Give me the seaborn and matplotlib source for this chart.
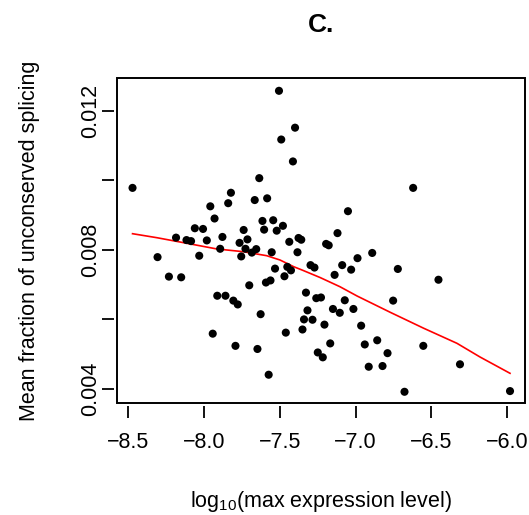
import numpy as np
import pandas as pd
import matplotlib
matplotlib.use("Agg")
import matplotlib.pyplot as plt
import matplotlib.patches as mpatches
import seaborn as sns

plt.rcParams['font.family'] = ['Liberation Sans', 'DejaVu Sans']
plt.rcParams['mathtext.fontset'] = 'custom'
plt.rcParams['mathtext.rm'] = 'Liberation Sans'
plt.rcParams['mathtext.it'] = 'Liberation Sans:italic'

# log10(max expression level)
expr = [-7.506, -7.400, -7.491, -7.414, -8.472, -7.636, -7.823, -7.841, -7.666, -7.584,
        -7.959, -7.931, -7.615, -7.544, -7.604, -7.480, -7.521, -8.061, -8.007, -7.739,
        -8.185, -8.116, -8.086, -7.982, -7.879, -7.714, -7.766, -7.438, -7.377, -7.359,
        -7.894, -7.727, -7.685, -7.656, -7.755, -7.554, -7.384, -7.195, -7.178, -7.120,
        -7.051, -6.621, -6.891, -6.988, -7.089, -7.298, -7.272, -7.030, -7.139, -6.722,
        -6.454, -8.307, -8.032, -8.232, -8.151, -7.532, -7.451, -7.427, -7.470, -7.702,
        -7.592, -7.562, -7.328, -7.260, -7.229, -7.913, -7.859, -7.807, -7.778, -7.627,
        -7.318, -7.341, -7.285, -7.351, -7.461, -7.943, -7.793, -7.648, -7.574, -7.250,
        -7.217, -7.168, -7.206, -7.150, -7.105, -7.072, -7.015, -6.753, -6.964, -6.858,
        -6.940, -6.790, -6.554, -6.914, -6.823, -6.312, -6.678, -5.982]

# mean fraction of unconserved splicing
frac = [0.01257, 0.01151, 0.01117, 0.01054, 0.00978, 0.01006, 0.00964, 0.00934, 0.00943, 0.00948,
        0.00925, 0.00890, 0.00883, 0.00885, 0.00858, 0.00869, 0.00855, 0.00862, 0.00860, 0.00857,
        0.00835, 0.00828, 0.00825, 0.00827, 0.00837, 0.00830, 0.00820, 0.00823, 0.00834, 0.00829,
        0.00803, 0.00803, 0.00792, 0.00802, 0.00781, 0.00793, 0.00793, 0.00817, 0.00813, 0.00848,
        0.00911, 0.00978, 0.00791, 0.00776, 0.00756, 0.00756, 0.00749, 0.00743, 0.00728, 0.00745,
        0.00714, 0.00779, 0.00783, 0.00723, 0.00721, 0.00746, 0.00751, 0.00741, 0.00724, 0.00698,
        0.00706, 0.00712, 0.00677, 0.00661, 0.00663, 0.00668, 0.00668, 0.00654, 0.00643, 0.00615,
        0.00626, 0.00600, 0.00599, 0.00571, 0.00562, 0.00559, 0.00524, 0.00515, 0.00441, 0.00505,
        0.00491, 0.00531, 0.00585, 0.00630, 0.00619, 0.00655, 0.00630, 0.00654, 0.00582, 0.00540,
        0.00528, 0.00503, 0.00524, 0.00464, 0.00466, 0.00471, 0.00392, 0.00394]

# smoothed (lowess) trend, red line
trend_x = [-8.472, -8.311, -8.135, -7.915, -7.741, -7.587, -7.499, -7.409, -7.354, -7.235,
           -7.104, -6.991, -6.772, -6.551, -6.332, -6.180, -5.982]
trend_y = [0.008463, 0.008348, 0.008205, 0.008024, 0.007946, 0.007831, 0.007707, 0.007515,
           0.007420, 0.007204, 0.006940, 0.006673, 0.006204, 0.005745, 0.005313, 0.004920,
           0.004451]

x_ticks = [-8.5, -8.0, -7.5, -7.0, -6.5, -6.0]
x_ticklabels = ['\u22128.5', '\u22128.0', '\u22127.5', '\u22127.0', '\u22126.5', '\u22126.0']
y_ticks = [0.004, 0.006, 0.008, 0.010, 0.012]
y_ticklabels = ['0.004', '', '0.008', '', '0.012']

df = pd.DataFrame({'expr': expr, 'frac': frac})
tr = pd.DataFrame({'x': trend_x, 'y': trend_y})

fig = plt.figure(figsize=(5.29, 5.15), dpi=100)
ax = fig.add_axes([0.2217, 0.2169, 0.9924 - 0.2217, 0.848 - 0.2169])

sns.lineplot(data=tr, x='x', y='y', ax=ax, color='#ff0000', lw=1.2, sort=True,
             estimator=None, zorder=2)
sns.scatterplot(data=df, x='expr', y='frac', ax=ax, color='black', s=34,
                edgecolor='none', linewidth=0, zorder=3)

ax.set_xlim(-8.5726, -5.8833)
ax.set_ylim(0.003589, 0.012930)

for side in ['left', 'bottom']:
    ax.spines[side].set_position(('outward', 2.3))
for sp in ax.spines.values():
    sp.set_visible(False)
ax.add_patch(mpatches.Rectangle((0, 0), 1, 1, transform=ax.transAxes, fill=False,
                                edgecolor='black', lw=1.4, clip_on=False, zorder=5))

ax.set_xticks(x_ticks)
ax.set_xticklabels(x_ticklabels)
ax.set_yticks(y_ticks)
ax.set_yticklabels(y_ticklabels, rotation=90, va='center')
ax.tick_params(axis='both', direction='out', length=8.3, width=1.3, labelsize=15.5,
               color='black')
ax.tick_params(axis='x', pad=10)
ax.tick_params(axis='y', pad=1)

ax.set_xlabel(r'log$_{\mathrm{10}}$(max expression level)', fontsize=15.5, labelpad=26)
ax.set_ylabel('Mean fraction of unconserved splicing', fontsize=15.5, labelpad=29)
ax.set_title('C.', fontsize=19, fontweight='bold', pad=33)

fig.savefig('out.png', dpi=100)
